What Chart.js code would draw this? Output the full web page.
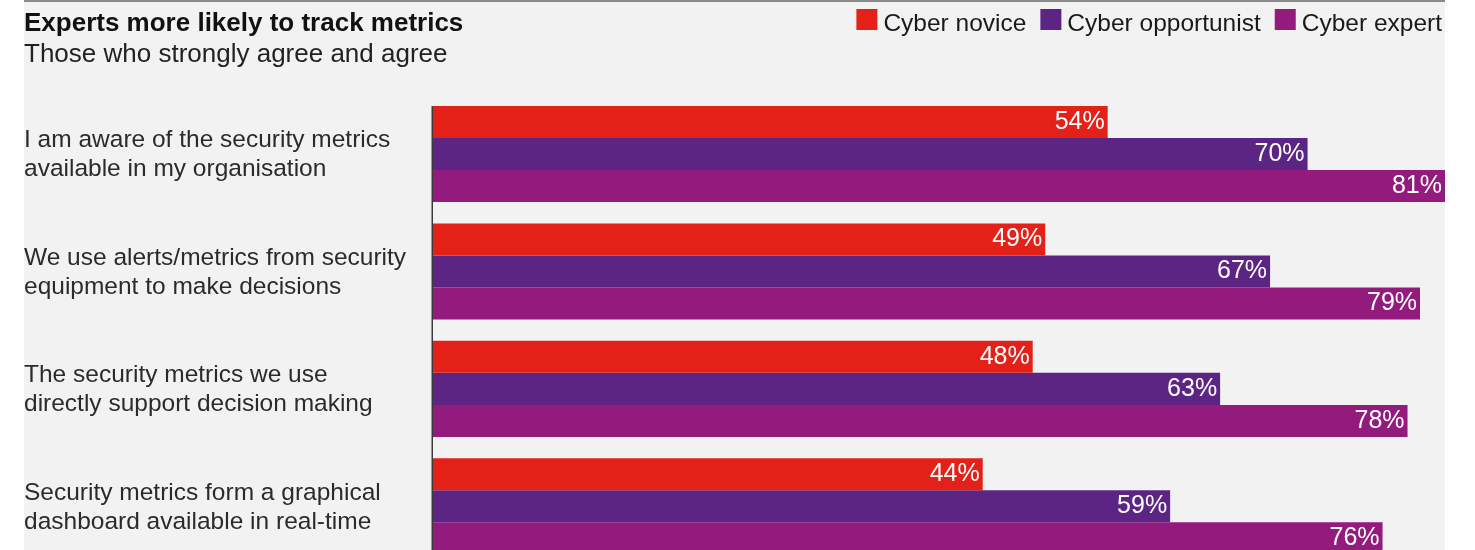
<!DOCTYPE html>
<html>
<head>
<meta charset="utf-8">
<script src="https://cdn.jsdelivr.net/npm/chart.js@4.4.1/dist/chart.umd.min.js"></script>
<style>
html, body { margin: 0; padding: 0; background: #ffffff; overflow: hidden; width: 1475px; height: 550px; }
#wrap { position: relative; width: 1475px; height: 550px; overflow: hidden; }
#bg { position: absolute; left: 24px; top: 0; width: 1421px; height: 550px; background: #f2f2f2; border-top: 2px solid #8a8a8a; box-sizing: border-box; }
#inner { position: absolute; left: 0; top: 0; width: 1475px; height: 594px; }
#cv { display: block; width: 1475px; height: 594px; }
</style>
</head>
<body>
<div id="wrap">
  <div id="bg"></div>
  <div id="inner"><canvas id="cv" width="1475" height="594"></canvas></div>
</div>
<script>
// ---- data ----
const titleText = "Experts more likely to track metrics";
const subtitleText = "Those who strongly agree and agree";
const categories = [
  ["I am aware of the security metrics", "available in my organisation"],
  ["We use alerts/metrics from security", "equipment to make decisions"],
  ["The security metrics we use", "directly support decision making"],
  ["Security metrics form a graphical", "dashboard available in real-time"]
];
const seriesNames = ["Cyber novice", "Cyber opportunist", "Cyber expert"];
const seriesColors = ["#e32119", "#5c2483", "#931b7e"];
const noviceValues = [54, 49, 48, 44];
const opportunistValues = [70, 67, 63, 59];
const expertValues = [81, 79, 78, 76];
const valueMax = 81;

const FONT = '"Liberation Sans", Arial, Helvetica, sans-serif';

// custom legend (top right)
const legendPlugin = {
  id: 'topLegend',
  afterDraw(chart) {
    const ctx = chart.ctx;
    const fontSize = 24.5;
    const box = 21, gapText = 6, gapItem = 14;
    ctx.save();
    ctx.font = fontSize + 'px ' + FONT;
    ctx.textBaseline = 'alphabetic';
    ctx.textAlign = 'left';
    const items = chart.data.datasets.map(d => ({ text: d.label, color: d.backgroundColor }));
    const widths = items.map(it => ctx.measureText(it.text).width);
    let total = 0;
    items.forEach((it, i) => { total += box + gapText + widths[i] + (i < items.length - 1 ? gapItem : 0); });
    let x = chart.chartArea.right - 3 - total;
    items.forEach((it, i) => {
      ctx.fillStyle = it.color;
      ctx.fillRect(x, 9, box, box);
      ctx.fillStyle = '#1a1a1a';
      ctx.fillText(it.text, x + box + gapText, 31);
      x += box + gapText + widths[i] + gapItem;
    });
    ctx.restore();
  }
};

// axis line starting at first bar top
const axisLinePlugin = {
  id: 'axisLine',
  beforeDatasetsDraw(chart) {
    const meta = chart.getDatasetMeta(0);
    const el = meta.data[0];
    if (!el) return;
    const top = el.y - el.height / 2;
    const ctx = chart.ctx;
    ctx.save();
    ctx.strokeStyle = '#3a3a3a';
    ctx.lineWidth = 1.5;
    ctx.beginPath();
    ctx.moveTo(chart.chartArea.left - 0.75, top);
    ctx.lineTo(chart.chartArea.left - 0.75, chart.chartArea.bottom);
    ctx.stroke();
    ctx.restore();
  }
};

// value labels inside bar ends
const valueLabelPlugin = {
  id: 'valueLabels',
  afterDatasetsDraw(chart) {
    const ctx = chart.ctx;
    ctx.save();
    ctx.font = '25px ' + FONT;
    ctx.fillStyle = '#ffffff';
    ctx.textAlign = 'right';
    ctx.textBaseline = 'middle';
    chart.data.datasets.forEach((ds, di) => {
      const meta = chart.getDatasetMeta(di);
      meta.data.forEach((el, i) => {
        ctx.fillText(ds.data[i] + '%', el.x - 3, el.y);
      });
    });
    ctx.restore();
  }
};

new Chart(document.getElementById('cv'), {
  type: 'bar',
  data: {
    labels: categories,
    datasets: [
      { label: seriesNames[0], data: noviceValues, backgroundColor: seriesColors[0] },
      { label: seriesNames[1], data: opportunistValues, backgroundColor: seriesColors[1] },
      { label: seriesNames[2], data: expertValues, backgroundColor: seriesColors[2] }
    ]
  },
  options: {
    indexAxis: 'y',
    responsive: false,
    maintainAspectRatio: false,
    animation: false,
    events: [],
    datasets: { bar: { categoryPercentage: 0.818, barPercentage: 1.0, borderWidth: 0 } },
    layout: { padding: { left: 24, right: 30, top: 0, bottom: 0 } },
    plugins: {
      legend: { display: false },
      tooltip: { enabled: false },
      title: {
        display: true, text: titleText, align: 'start', color: '#111111',
        font: { family: FONT, size: 26, weight: 'bold', lineHeight: 1.2 },
        padding: { top: 8.5, bottom: 0 }
      },
      subtitle: {
        display: true, text: subtitleText, align: 'start', color: '#222222',
        font: { family: FONT, size: 26, weight: 'normal', lineHeight: 1.2 },
        padding: { top: 0, bottom: 24.43 }
      }
    },
    scales: {
      x: { display: false, min: 0, max: valueMax },
      y: {
        type: 'category',
        grid: { display: false },
        border: { display: false },
        ticks: {
          crossAlign: 'far',
          color: '#2b2b2b',
          font: { family: FONT, size: 24.5, lineHeight: 1.184 },
          padding: 0,
          labelOffset: 1
        },
        afterFit(scale) { scale.width = 409; }
      }
    }
  },
  plugins: [axisLinePlugin, valueLabelPlugin, legendPlugin]
});
</script>
</body>
</html>
